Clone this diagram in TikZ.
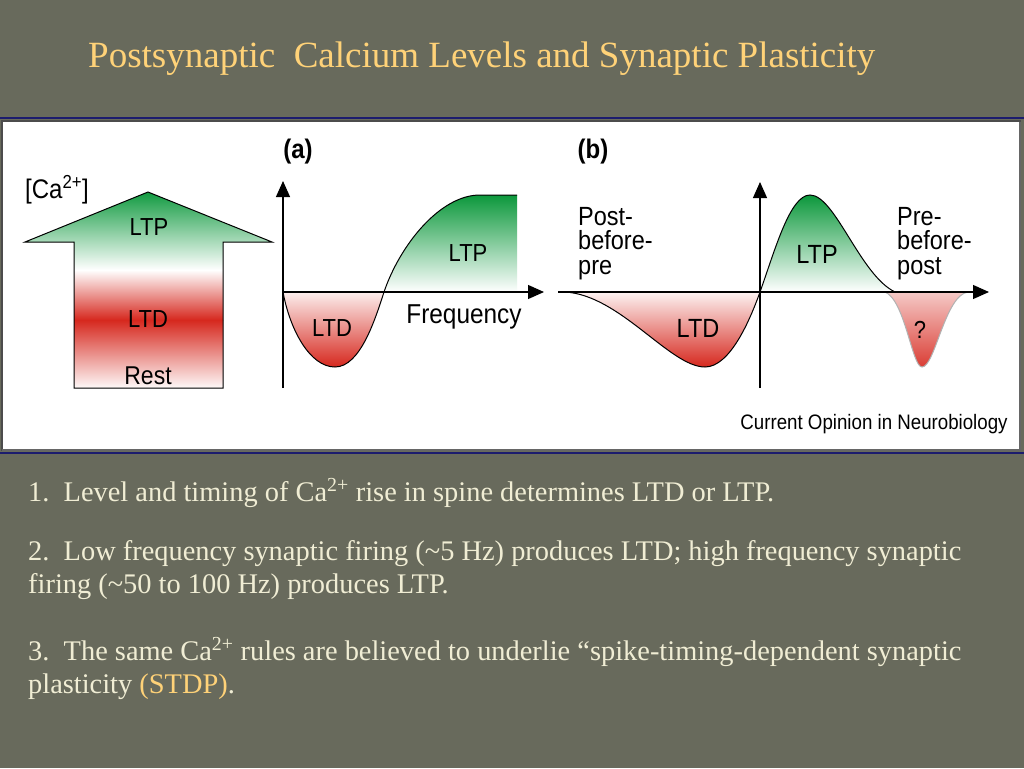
\documentclass[tikz,border=0pt]{standalone}
\usepackage{graphicx}
\usepackage{fontspec}
\setmainfont{Liberation Serif}
\setsansfont{Liberation Sans}
\usetikzlibrary{arrows.meta, positioning}
\definecolor{slidebg}{RGB}{104,106,92}
\definecolor{titlegold}{RGB}{255,210,120}
\definecolor{bodycream}{RGB}{240,237,212}
\definecolor{ltpgreen}{RGB}{12,152,60}
\definecolor{ltdred}{RGB}{214,40,30}
\definecolor{rulenavy}{RGB}{28,28,110}
\newcommand{\tallt}[1]{\scalebox{1}[1.12]{#1}}

\begin{document}
\begin{tikzpicture}[
        x=1pt, y=-1pt,
        lbl/.style={
            font=\sffamily\fontsize{22}{22}\selectfont,
            inner sep=0pt
        },
        biglbl/.style={
            lbl,
            font=\sffamily\fontsize{23.5}{24.5}\selectfont
        },
        bodytext/.style={
            font=\fontsize{28.4}{33}\selectfont,
            text=bodycream,
            anchor=base west,
            align=left,
            inner sep=0pt
        },
        axisarr/.style={
            line width=1.2pt,
            -{Triangle[length=16pt,width=14pt]}
        },
        curve/.style={
            line width=1pt
        }
    ]

    % slide background
    \fill[slidebg] (0,0) rectangle (1024,768);
    \useasboundingbox (0,0) rectangle (1024,768);

    \node[anchor=base west, text=titlegold, font=\fontsize{37}{40}\selectfont, inner sep=0pt] (title) at (88,67)
        {Postsynaptic\ \ Calcium Levels and Synaptic Plasticity};

    % figure panel
    \draw[rulenavy, line width=2pt] (0,118) -- (1024,118);
    \draw[rulenavy, line width=2pt] (0,453) -- (1024,453);
    \draw[fill=white, draw=black!70, line width=1.2pt] (2,121) rectangle (1020,450);
    \draw[black!60, line width=2.5pt] (1020,122) -- (1020,450) -- (2,450);

    % calcium arrow
    \begin{scope}
        \clip (148,192) -- (272,242) -- (223,242) -- (223,388) -- (74,388) -- (74,242) -- (25,242) -- cycle;
        \shade[top color=ltpgreen, bottom color=white] (20,190) rectangle (280,270);
        \shade[top color=white, bottom color=ltdred] (20,270) rectangle (280,320);
        \shade[top color=ltdred, bottom color=white] (20,320) rectangle (280,390);
    \end{scope}
    \draw[line width=1pt] (148,192) -- (272,242) -- (223,242) -- (223,388) -- (74,388) -- (74,242) -- (25,242) -- cycle;

    \node[lbl, font=\sffamily\fontsize{24}{24}\selectfont] (calevel) at (57,190) {\tallt{[Ca\textsuperscript{2+}]}};
    \node[lbl] (arrowltp) at (149,227) {\tallt{LTP}};
    \node[lbl] (arrowltd) at (148,319) {\tallt{LTD}};
    \node[lbl, font=\sffamily\fontsize{23}{23}\selectfont] (arrowrest) at (148,376) {\tallt{Rest}};

    % (a) frequency rule
    \coordinate (aorigin) at (283,292);
    \coordinate (abottom) at (283,388);
    \coordinate (atop) at (283,181);
    \coordinate (aright) at (544,292);

    \shade[top color=ltdred!8, bottom color=ltdred] (283,292) .. controls (290,330) and (310,367) .. (335,367)
        .. controls (360,367) and (375,320) .. (384,292) -- cycle;
    \shade[top color=ltpgreen, bottom color=white] (384,292) .. controls (400,245) and (440,195) .. (480,195)
        -- (517,195) -- (517,292) -- cycle;
    \draw[curve] (283,292) .. controls (290,330) and (310,367) .. (335,367)
        .. controls (360,367) and (375,320) .. (384,292)
        .. controls (400,245) and (440,195) .. (480,195) -- (517,195);

    \draw[axisarr] (abottom) -- (atop);
    \draw[axisarr] (aorigin) -- (aright);

    \node[lbl, font=\sffamily\bfseries\fontsize{24}{24}\selectfont] (panela) at (298,152) {\tallt{(a)}};
    \node[lbl] (altd) at (332,328) {\tallt{LTD}};
    \node[lbl] (altp) at (468,253) {\tallt{LTP}};
    \node[lbl, font=\sffamily\fontsize{24.4}{24}\selectfont] (freq) at (464,317) {\tallt{Frequency}};

    % (b) spike timing rule
    \coordinate (borigin) at (760,292);
    \coordinate (bbottom) at (760,388);
    \coordinate (btop) at (760,182);
    \coordinate (bleft) at (558,292);
    \coordinate (bright) at (989,292);

    \shade[top color=ltdred!25, bottom color=ltdred!90] (885,292) .. controls (905,300) and (912,367) .. (922,367)
        .. controls (935,367) and (945,295) .. (968,292) -- cycle;
    \draw[gray!60, line width=1pt] (885,292) .. controls (905,300) and (912,367) .. (922,367)
        .. controls (935,367) and (945,295) .. (968,292);
    \shade[top color=ltdred!6, bottom color=ltdred] (565,292) .. controls (620,295) and (670,367) .. (705,367)
        .. controls (730,367) and (750,320) .. (760,292) -- cycle;
    \shade[top color=ltpgreen, bottom color=white] (760,292) .. controls (775,250) and (790,195) .. (810,195)
        .. controls (835,195) and (860,275) .. (895,292) -- cycle;
    \draw[curve] (565,292) .. controls (620,295) and (670,367) .. (705,367)
        .. controls (730,367) and (750,320) .. (760,292)
        .. controls (775,250) and (790,195) .. (810,195)
        .. controls (835,195) and (860,275) .. (895,292);

    \draw[axisarr] (bbottom) -- (btop);
    \draw[axisarr] (bleft) -- (bright);

    \node[lbl, font=\sffamily\bfseries\fontsize{24}{24}\selectfont] (panelb) at (593,152) {\tallt{(b)}};
    \node[biglbl, anchor=base west, align=left] (postpre) at (578,274) {\tallt{Post-}\\\tallt{before-}\\\tallt{pre}};
    \node[biglbl, anchor=base west, align=left] (prepost) at (897,274) {\tallt{Pre-}\\\tallt{before-}\\\tallt{post}};
    \node[biglbl] (bltp) at (817,254) {\tallt{LTP}};
    \node[biglbl] (bltd) at (698,328) {\tallt{LTD}};
    \node[lbl] (bquery) at (920,330) {\tallt{?}};

    \node[lbl, font=\sffamily\fontsize{18.7}{19}\selectfont] (source) at (874,424) {\tallt{Current Opinion in Neurobiology}};

    % summary points
    \node[bodytext] (pointone) at (28,501)
        {1.\ \ Level and timing of Ca\textsuperscript{2+} rise in spine determines LTD or LTP.};
    \node[bodytext] (pointtwo) at (28,593)
        {2.\ \ Low frequency synaptic firing (\textasciitilde5 Hz) produces LTD; high frequency synaptic\\
         firing (\textasciitilde50 to 100 Hz) produces LTP.};
    \node[bodytext] (pointthree) at (28,693)
        {3.\ \ The same Ca\textsuperscript{2+} rules are believed to underlie \textquotedblleft spike-timing-dependent synaptic\\
         plasticity \textcolor{titlegold}{(STDP)}.};

\end{tikzpicture}
\end{document}
